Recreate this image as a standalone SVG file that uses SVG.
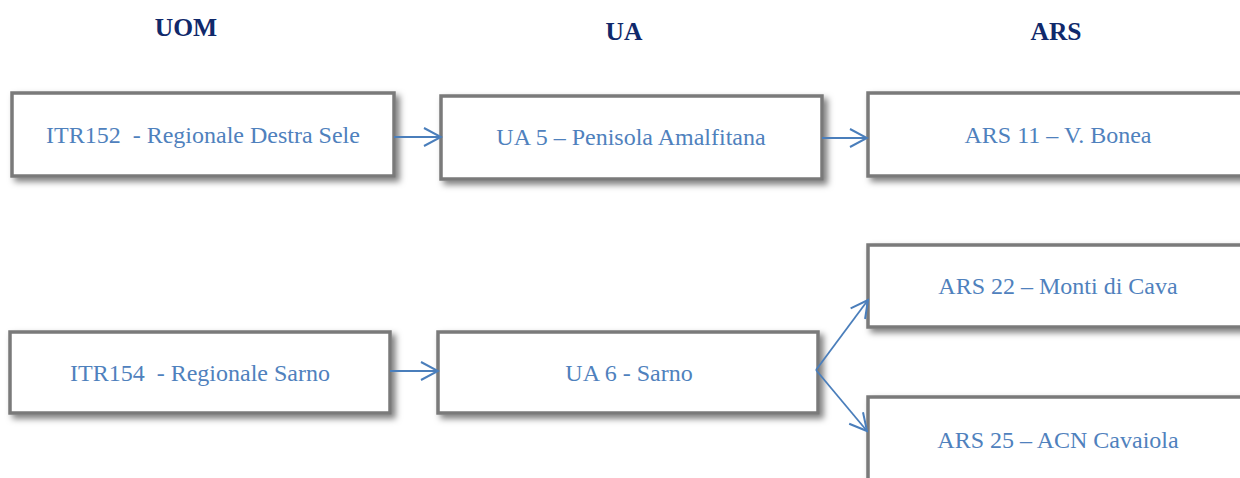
<svg xmlns="http://www.w3.org/2000/svg" width="1240" height="478" viewBox="0 0 1240 478">
<defs>
<style>
.hdr{font-family:"Liberation Serif","Times New Roman",serif;font-weight:bold;font-size:25.5px;fill:#10296b;text-anchor:middle}
.box{fill:#ffffff;stroke:#7a7a7a;stroke-width:3.5;filter:url(#sh)}
.lbl{font-family:"Liberation Serif","Times New Roman",serif;font-size:24px;fill:#4f81bd;text-anchor:middle;white-space:pre}
.con{stroke:#4a7ebb;stroke-width:1.8;fill:none;marker-end:url(#arr)}
</style>
<filter id="sh" x="-5%" y="-10%" width="115%" height="140%">
<feDropShadow dx="4" dy="4" stdDeviation="3" flood-color="#000" flood-opacity="0.5"/>
</filter>
<marker id="arr" markerUnits="userSpaceOnUse" markerWidth="22" markerHeight="24" viewBox="0 0 22 24" refX="20" refY="12" orient="auto">
<path d="M3,3 L20,12 L3,21" fill="none" stroke="#4a7ebb" stroke-width="2"/>
</marker>
</defs>
<g id="headers">
<text class="hdr" x="186" y="36">UOM</text>
<text class="hdr" x="624" y="40">UA</text>
<text class="hdr" x="1056" y="40">ARS</text>
</g>
<g id="node-itr152">
<rect class="box" x="12" y="93" width="382" height="83"/>
<text class="lbl" x="203" y="143">ITR152  - Regionale Destra Sele</text>
</g>
<g id="node-ua5">
<rect class="box" x="441" y="96" width="381" height="83"/>
<text class="lbl" x="631" y="145">UA 5 – Penisola Amalfitana</text>
</g>
<g id="node-ars11">
<rect class="box" x="868" y="93" width="380" height="83"/>
<text class="lbl" x="1058" y="143">ARS 11 – V. Bonea</text>
</g>
<g id="node-itr154">
<rect class="box" x="10" y="332" width="380" height="81"/>
<text class="lbl" x="200" y="381">ITR154  - Regionale Sarno</text>
</g>
<g id="node-ua6">
<rect class="box" x="438" y="332" width="380" height="81"/>
<text class="lbl" x="629" y="381">UA 6 - Sarno</text>
</g>
<g id="node-ars22">
<rect class="box" x="868" y="245" width="380" height="82"/>
<text class="lbl" x="1058" y="294">ARS 22 – Monti di Cava</text>
</g>
<g id="node-ars25">
<rect class="box" x="868" y="397" width="380" height="95"/>
<text class="lbl" x="1058" y="448">ARS 25 – ACN Cavaiola</text>
</g>
<g id="connectors">
<line class="con" x1="394" y1="137" x2="441" y2="137"/>
<line class="con" x1="822" y1="138" x2="867" y2="138"/>
<line class="con" x1="390" y1="371" x2="438" y2="371"/>
<line class="con" x1="816" y1="370" x2="868" y2="300"/>
<line class="con" x1="816" y1="370" x2="867" y2="431"/>
</g>
</svg>
